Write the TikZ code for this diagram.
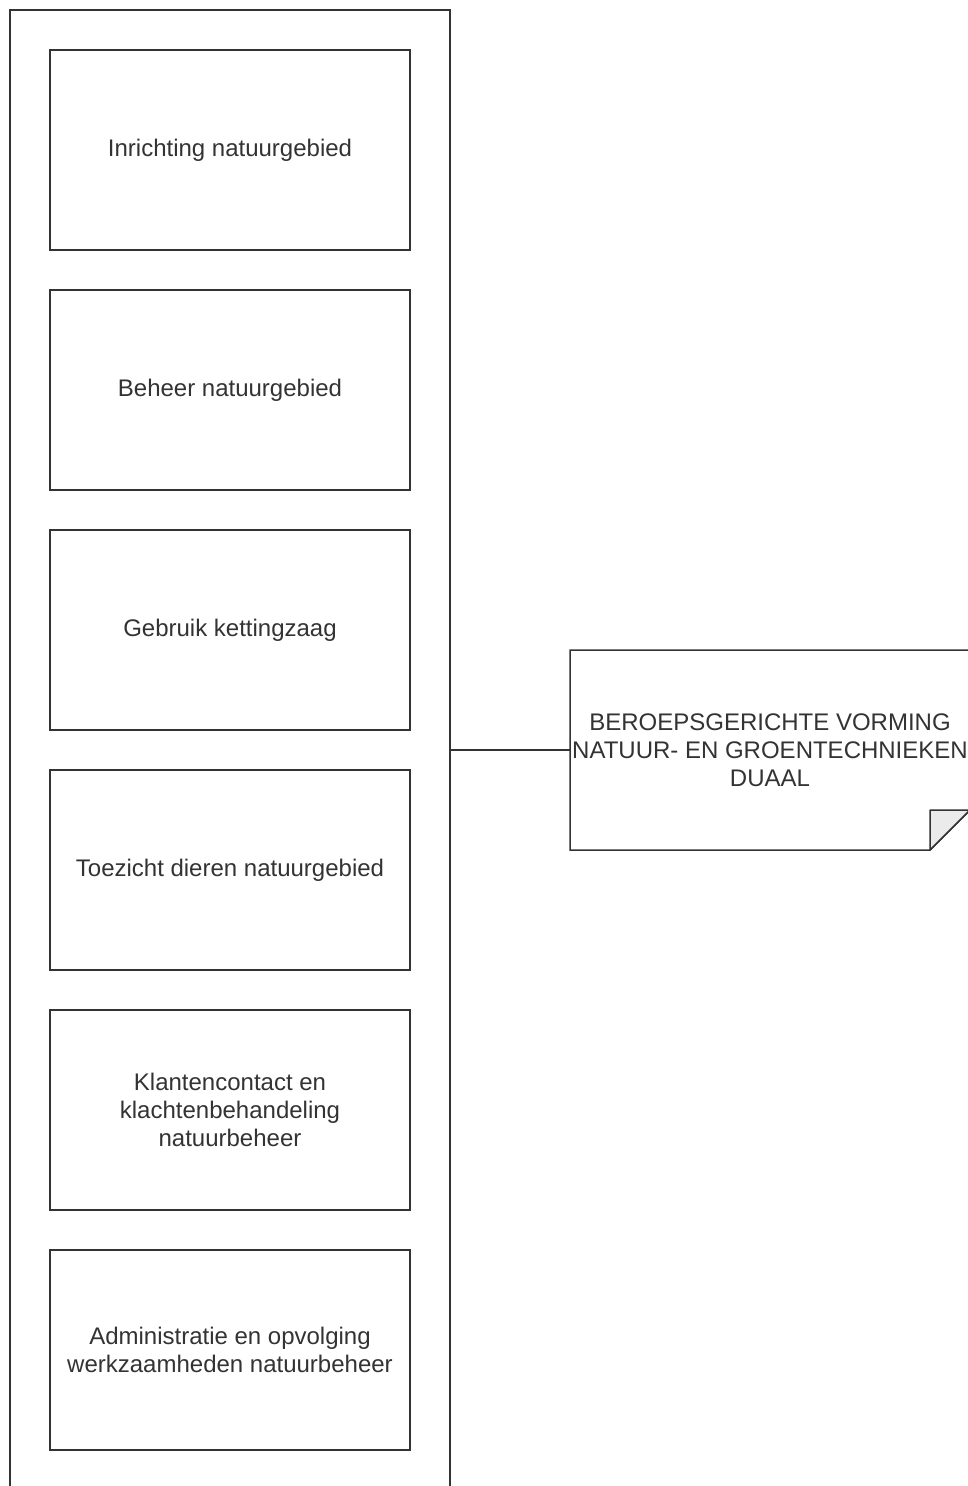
\documentclass[tikz,border=0pt]{standalone}
\usepackage{fontspec}
\setmainfont{Liberation Sans}
\usetikzlibrary{positioning}

\tikzset{
	taak/.style={draw=black!80, line width=1.5pt, outer sep=0pt, fill=white, minimum width=360pt, minimum height=200pt,
		align=center, text=black!80, font=\fontsize{24}{28}\selectfont},
}

\begin{document}
\begin{tikzpicture}[x=1pt,y=-1pt]
				\useasboundingbox (0,0) rectangle (968,1486);
				% container met de taken
				\node[draw=black!80, line width=1.5pt, outer sep=0pt, minimum width=440pt, minimum height=1500pt, anchor=north west] (kolom) at (10,10) {};
				\node[taak, anchor=north west] (inrichting) at (50,50) {Inrichting natuurgebied};
				\node[taak, below=40pt of inrichting] (beheer) {Beheer natuurgebied};
				\node[taak, below=40pt of beheer] (kettingzaag) {Gebruik kettingzaag};
				\node[taak, below=40pt of kettingzaag] (toezicht) {Toezicht dieren natuurgebied};
				\node[taak, below=40pt of toezicht] (klant) {Klantencontact en\\klachtenbehandeling\\natuurbeheer};
				\node[taak, below=40pt of klant] (admin) {Administratie en opvolging\\werkzaamheden natuurbeheer};
				% notitie
				\node[minimum width=400pt, minimum height=200pt, outer sep=0pt] (vorming) at (770,750) {};
				\draw[draw=black!80, line width=1.5pt, fill=white] (vorming.north west) -- (vorming.north east) -- ([yshift=40pt]vorming.south east)
					-- ([xshift=-40pt]vorming.south east) -- (vorming.south west) -- cycle;
				\draw[draw=black!80, line width=1.5pt, fill=black!8, line join=round] ([xshift=-40pt]vorming.south east) -- ([xshift=-40pt,yshift=40pt]vorming.south east)
					-- ([yshift=40pt]vorming.south east) -- cycle;
				\node[align=center, text=black!80, font=\fontsize{24}{28}\selectfont] (vormingtekst) at (vorming.center) {BEROEPSGERICHTE VORMING\\NATUUR- EN GROENTECHNIEKEN\\DUAAL};
				\draw[draw=black!80, line width=1.5pt] (kolom.east |- vorming.west) -- (vorming.west);
			\end{tikzpicture}
\end{document}
